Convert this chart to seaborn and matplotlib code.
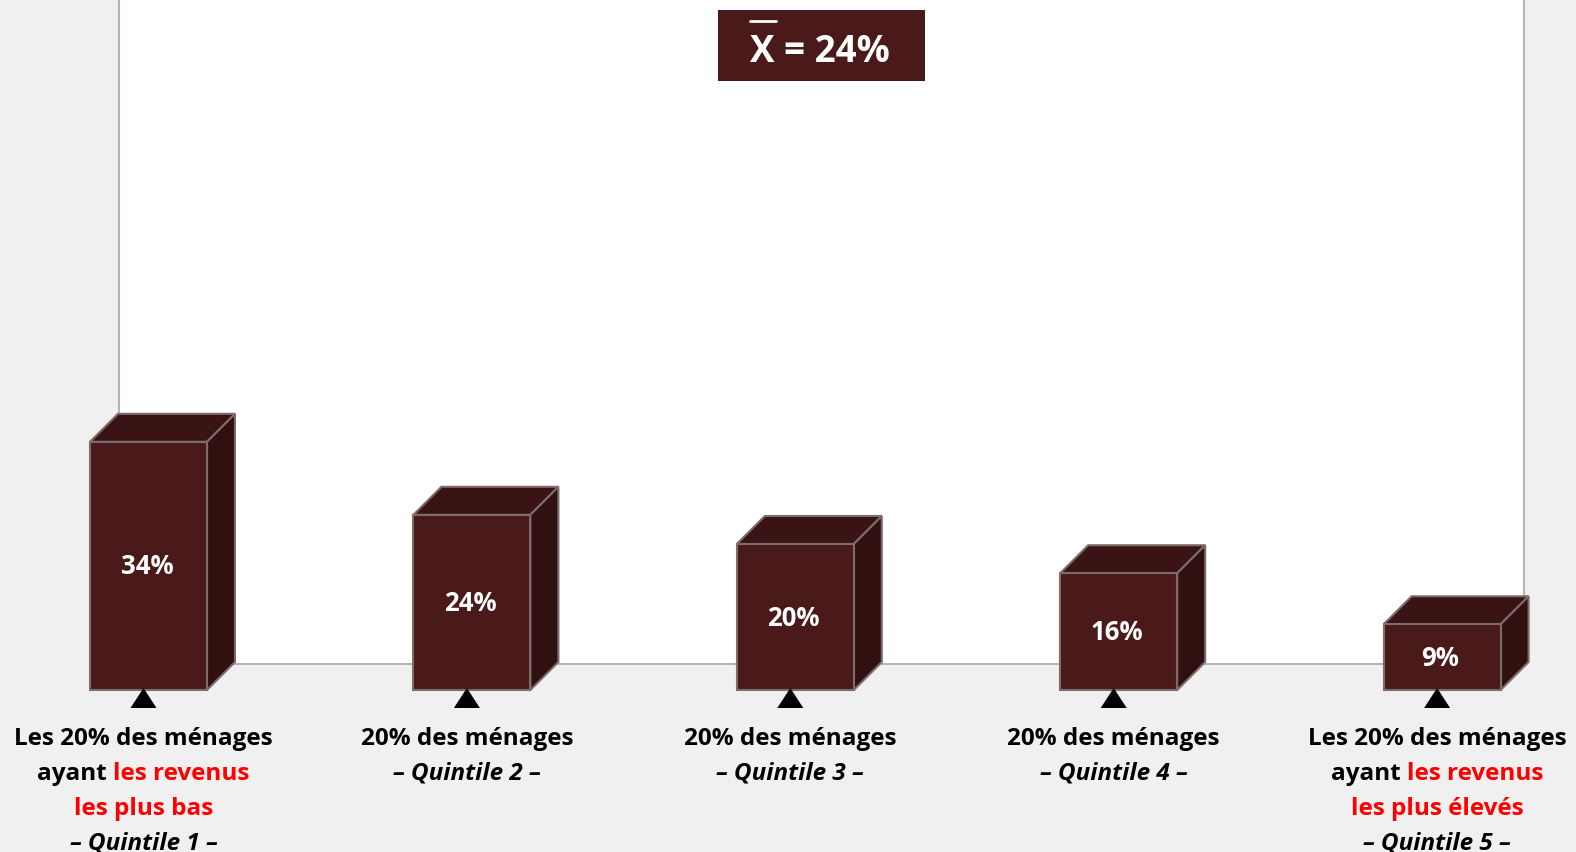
import numpy as np
import pandas as pd
import matplotlib
matplotlib.use("Agg")
import matplotlib.pyplot as plt
import seaborn as sns
from matplotlib.patches import Polygon, Rectangle
from matplotlib.transforms import IdentityTransform
from matplotlib.lines import Line2D

# ---------------- data ----------------
categories = ["Quintile 1", "Quintile 2", "Quintile 3", "Quintile 4", "Quintile 5"]
values = [34, 24, 20, 16, 9]
value_labels = ["34%", "24%", "20%", "16%", "9%"]
mean_label = "X = 24%"

# label lines: list of pieces (text, color, italic)
label_q1 = [[("Les 20% des ménages", "k", False)],
            [("ayant ", "k", False), ("les revenus", "r", False)],
            [("les plus bas", "r", False)],
            [("– Quintile 1 –", "k", True)]]
label_q2 = [[("20% des ménages", "k", False)], [("– Quintile 2 –", "k", True)]]
label_q3 = [[("20% des ménages", "k", False)], [("– Quintile 3 –", "k", True)]]
label_q4 = [[("20% des ménages", "k", False)], [("– Quintile 4 –", "k", True)]]
label_q5 = [[("Les 20% des ménages", "k", False)],
            [("ayant ", "k", False), ("les revenus", "r", False)],
            [("les plus élevés", "r", False)],
            [("– Quintile 5 –", "k", True)]]
labels = [label_q1, label_q2, label_q3, label_q4, label_q5]

# ---------------- style ----------------
W, H = 1576, 853
FRONT = "#4a1919"
TOP = "#3a1414"
SIDE = "#311010"
EDGE = "#7d6c6c"
BG = "#f0f0f0"
RED = "#ff0000"
sns.set_theme(style="white")
plt.rcParams["font.family"] = ["Open Sans", "DejaVu Sans"]

fig = plt.figure(figsize=(W / 100, H / 100), dpi=100, facecolor=BG)

# white plotting panel
panel = fig.add_axes([119 / W, (H - 665) / H, (1524 - 119) / W, 665 / H + 0.02])
panel.set_facecolor("white")
panel.set_xticks([]); panel.set_yticks([])
for side in ["left", "right", "bottom"]:
    panel.spines[side].set_color("#b4b4b4")
    panel.spines[side].set_linewidth(1.5)
panel.spines["top"].set_visible(False)

# main axes covering whole figure
ax = fig.add_axes([0, 0, 1, 1])
ax.patch.set_alpha(0)
ppx = 323.4   # pixels per category
ppy = 7.3     # pixels per percent
x0px = 148.5  # pixel x of first category
base_px = 162  # baseline from bottom
bar_w = 117 / ppx

df = pd.DataFrame({"cat": categories, "val": values})
sns.barplot(data=df, x="cat", y="val", color=FRONT, saturation=1, width=bar_w,
            edgecolor=EDGE, linewidth=1.5, ax=ax, zorder=4)
ax.set_xlim(-x0px / ppx, (W - x0px) / ppx)
ax.set_ylim(-base_px / ppy, (H - base_px) / ppy)
ax.axis("off")

dx = 28 / ppx
dy = 28 / ppy
for p in ax.patches[:len(values)]:
    bx, bw, bh = p.get_x(), p.get_width(), p.get_height()
    top = Polygon([(bx, bh), (bx + bw, bh), (bx + bw + dx, bh + dy), (bx + dx, bh + dy)],
                  closed=True, facecolor=TOP, edgecolor=EDGE, linewidth=1.5, zorder=3)
    side = Polygon([(bx + bw, 0), (bx + bw, bh), (bx + bw + dx, bh + dy), (bx + bw + dx, dy)],
                   closed=True, facecolor=SIDE, edgecolor=EDGE, linewidth=1.5, zorder=3)
    ax.add_patch(top); ax.add_patch(side)

for i, (v, lab) in enumerate(zip(values, value_labels)):
    ax.text(i - 0.005, v / 2, lab, ha="center", va="center", color="white",
            fontsize=18.5, fontweight="bold", zorder=6)

fig.canvas.draw()
renderer = fig.canvas.get_renderer()
ident = IdentityTransform()

def measure(s, fs, italic=False):
    if not s:
        return 0.0
    t = fig.text(0, 0, s, transform=ident, fontsize=fs, fontweight="bold",
                 fontstyle="italic" if italic else "normal")
    w = t.get_window_extent(renderer).width
    t.remove()
    return w

LFS = 17.5
line_base = [745, 780, 815, 850]
for i, lab in enumerate(labels):
    cx = ax.transData.transform((i, 0))[0] - 5
    # triangle marker
    tri = Polygon([(cx, H - 689), (cx - 13, H - 709), (cx + 13, H - 709)],
                  closed=True, transform=ident, facecolor="black", edgecolor="none", zorder=5)
    ax.add_patch(tri)
    for li, pieces in enumerate(lab):
        italic = pieces[0][2]
        full = "".join(p[0] for p in pieces)
        wfull = measure(full, LFS, italic)
        left = cx - wfull / 2
        prev = ""
        for txt, col, it in pieces:
            start = left + measure(prev, LFS, it)
            prev += txt
            fig.text(start, H - line_base[li], txt.rstrip(), transform=ident,
                     fontsize=LFS, fontweight="bold",
                     fontstyle="italic" if it else "normal",
                     color=RED if col == "r" else "black", ha="left", va="baseline")

# mean box
fig.patches.append(Rectangle((718, H - 82), 207, 71, transform=ident,
                             facecolor=FRONT, edgecolor="none", figure=fig))
MFS = 26.5
cxm = 820
wm = measure(mean_label, MFS)
fig.text(cxm - wm / 2, H - 62, mean_label, transform=ident, fontsize=MFS,
         fontweight="bold", color="white", ha="left", va="baseline")
wx = measure("X", MFS)
fig.lines.append(Line2D([cxm - wm / 2, cxm - wm / 2 + wx + 1], [H - 22, H - 22],
                        transform=ident, color="white", linewidth=2, figure=fig))

fig.savefig("out.png", dpi=100, facecolor=BG)
